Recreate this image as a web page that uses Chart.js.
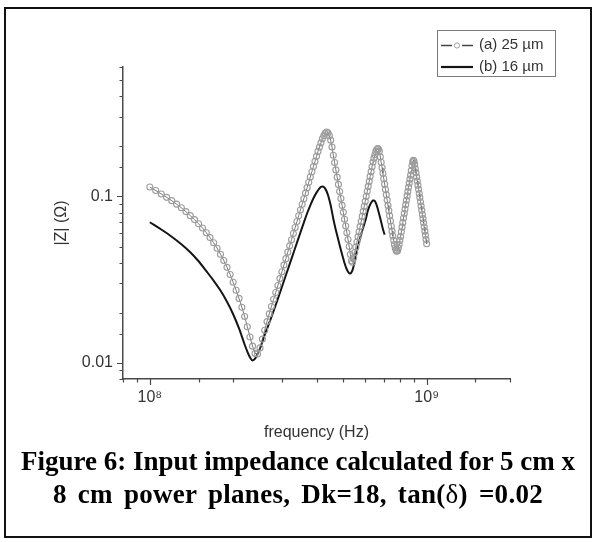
<!DOCTYPE html>
<html>
<head>
<meta charset="utf-8">
<script src="https://cdn.jsdelivr.net/npm/chart.js@4.4.1/dist/chart.umd.min.js"></script>
<style>
  html, body { margin:0; padding:0; background:#fff; }
  #wrap { position:relative; width:596px; height:542px; overflow:hidden; }
  #frame { position:absolute; left:4px; top:7px; width:584px; height:527px; border:2px solid #111; }
  #c { position:absolute; left:0; top:0; }
  #caption { position:absolute; left:0; top:445px; width:596px; text-align:center;
    font:bold 27px "Liberation Serif","Times New Roman",serif; line-height:33px; color:#000; }
  #caption .l2 { word-spacing:4px; letter-spacing:0.3px; }
  #caption .sym { font-weight:normal; }
</style>
</head>
<body>
<div id="wrap">
  <div id="frame"></div>
  <canvas id="c" width="596" height="542"></canvas>
  <div id="caption">Figure 6: Input impedance calculated for 5 cm x<br><span class="l2">8 cm power planes, Dk=18, tan(<span class="sym">δ</span>) =0.02</span></div>
</div>
<script>
// ===== data (frequency in MHz, |Z| in ohm) =====
const seriesNames = ['(a) 25 \u00b5m', '(b) 16 \u00b5m'];

// (a) 25 um : open circles
const freqA = [
  100,105,110,115,120,125,130,135,140,145,150,155,160,165,170,175,180,185,190,195,
  200,205,210,215,220,225,230,235,240,245,250,255,260,265,270,275,280,285,290,295,
  300,305,310,315,320,325,330,335,340,345,350,355,360,365,370,375,380,385,390,395,
  400,405,410,415,420,425,430,435,440,445,450,455,460,465,470,475,480,485,490,495,
  500,505,510,515,520,525,530,535,540,545,550,555,560,565,570,575,580,585,590,595,
  600,605,610,615,620,625,630,635,640,645,650,655,660,665,670,675,680,685,690,695,
  700,705,710,715,720,725,730,735,740,745,750,755,760,765,770,775,780,785,790,795,
  800,805,810,815,820,825,830,835,840,845,850,855,860,865,870,875,880,885,890,895,
  900,905,910,915,920,925,930,935,940,945,950,955,960,965,970,975,980,985,990,995,
  1000
];
const zA = [
  0.114,0.1086,0.1035,0.0988,0.0944,0.0899,0.0855,0.0811,0.0767,0.0726,0.0686,0.0646,0.0605,0.0566,0.0527,0.0489,0.0450,0.0412,0.0375,0.0340,
  0.0305,0.0273,0.0244,0.0216,0.0190,0.0165,0.0143,0.0126,0.0114,0.0113,0.0123,0.0139,0.0157,0.0177,0.0197,0.0218,0.0241,0.0265,0.0292,0.0321,
  0.0353,0.0387,0.0423,0.0463,0.0505,0.0550,0.0599,0.0651,0.0707,0.0766,0.0830,0.0898,0.0970,0.1048,0.1130,0.1217,0.1310,0.1409,0.1514,0.1625,
  0.1742,0.1866,0.1980,0.2100,0.2220,0.2320,0.2400,0.2440,0.2410,0.2320,0.2180,0.1980,0.1770,0.1600,0.1445,0.1307,0.1182,0.1072,0.0973,0.0884,
  0.0803,0.0730,0.0664,0.0605,0.0551,0.0500,0.0448,0.0410,0.0402,0.0428,0.0461,0.0496,0.0533,0.0572,0.0614,0.0659,0.0707,0.0759,0.0814,0.0872,
  0.0935,0.1002,0.1074,0.1150,0.1232,0.1320,0.1410,0.1510,0.1610,0.1700,0.1780,0.1860,0.1910,0.1940,0.1930,0.1870,0.1730,0.1605,0.1487,0.1378,
  0.1278,0.1186,0.1101,0.1023,0.0951,0.0884,0.0822,0.0765,0.0712,0.0663,0.0619,0.0579,0.0545,0.0515,0.0492,0.0477,0.0469,0.0472,0.0490,0.0515,
  0.0545,0.0575,0.0613,0.0654,0.0697,0.0742,0.0790,0.0840,0.0893,0.0949,0.1008,0.1070,0.1135,0.1202,0.1272,0.1343,0.1430,0.1530,0.1610,0.1650,
  0.1630,0.1560,0.1470,0.1388,0.1311,0.1238,0.1169,0.1104,0.1043,0.0985,0.0930,0.0876,0.0827,0.0780,0.0736,0.0695,0.0656,0.0619,0.0584,0.0551,
  0.0520
];

// (b) 16 um : solid line
const freqB = [
  100,110,120,130,140,150,160,170,180,190,200,210,220,225,230,235,240,245,250,255,
  260,270,280,290,300,310,320,330,340,350,360,370,380,390,400,410,415,420,425,430,
  435,440,445,450,455,460,465,470,475,480,485,490,495,500,505,510,515,520,525,530,
  535,540,545,550,555,560,565,570,575,580,585,590,595,600,605,610,615,620,625,630,
  635,640,645,650,655,660,665,670,675,680,685,690,695,700,705
];
const zB = [
  0.0700,0.0633,0.0573,0.0516,0.0462,0.0408,0.0356,0.0312,0.0272,0.0233,0.0196,0.0161,0.0129,0.0117,0.0108,0.01035,0.0106,0.0113,0.0122,0.0134,
  0.0147,0.0174,0.0205,0.0242,0.0286,0.0336,0.0392,0.0456,0.0528,0.0608,0.0697,0.0793,0.0885,0.0975,0.1055,0.1120,0.1142,0.1150,0.1140,0.1115,
  0.1075,0.1020,0.0955,0.0885,0.0808,0.0735,0.0676,0.0627,0.0584,0.0545,0.0510,0.0477,0.0448,0.0422,0.0398,0.0379,0.0364,0.0353,0.0346,0.0344,
  0.0350,0.0362,0.0382,0.0410,0.0440,0.0470,0.0502,0.0533,0.0562,0.0592,0.0622,0.0652,0.0682,0.0712,0.0750,0.0795,0.0835,0.0866,0.0895,0.0918,
  0.0935,0.0945,0.0946,0.0937,0.0915,0.0885,0.0850,0.0812,0.0775,0.0738,0.0702,0.0668,0.0637,0.0612,0.0590
];

// axis ranges and labels
const xRange = [8e7, 2e9];
const yRange = [0.008, 0.6];
const xTickLabels = { 8: '10\u2078', 9: '10\u2079' };
const xTitle = 'frequency (Hz)';
const yTitle = '|Z| (\u03a9)';

// ===== style =====
const axisColor = '#4a4a4a';
const textColor = '#333';
const sans = '"Liberation Sans", Arial, sans-serif';

function isDecade(v) {
  const l = Math.log10(v);
  return Math.abs(l - Math.round(l)) < 1e-6;
}

// ticks (outward, long for decades), axis titles and legend box
const decor = {
  id: 'decor',
  afterDraw(chart) {
    const { ctx, chartArea: a, scales } = chart;
    ctx.save();
    ctx.strokeStyle = axisColor;
    ctx.lineWidth = 1.2;
    ctx.beginPath();
    scales.x.ticks.forEach(t => {
      const px = Math.round(scales.x.getPixelForValue(t.value)) + 0.5;
      const len = isDecade(t.value) ? 6 : 3.5;
      ctx.moveTo(px, a.bottom); ctx.lineTo(px, a.bottom + len);
    });
    scales.y.ticks.forEach(t => {
      const py = Math.round(scales.y.getPixelForValue(t.value)) + 0.5;
      const len = isDecade(t.value) ? 6 : 3.5;
      ctx.moveTo(a.left, py); ctx.lineTo(a.left - len, py);
    });
    ctx.stroke();

    // axis titles
    ctx.fillStyle = textColor;
    ctx.font = '16px ' + sans;
    ctx.textAlign = 'center';
    ctx.textBaseline = 'middle';
    ctx.fillText(xTitle, (a.left + a.right) / 2, 433);
    ctx.save();
    ctx.translate(62, (a.top + a.bottom) / 2);
    ctx.rotate(-Math.PI / 2);
    ctx.fillText(yTitle, 0, 0);
    ctx.restore();

    // legend
    const lx = 437, ly = 30, lw = 118, lh = 46;
    ctx.strokeStyle = '#7a7a7a';
    ctx.lineWidth = 1;
    ctx.strokeRect(lx + 0.5, ly + 0.5, lw, lh);
    const dsA = chart.data.datasets[0], dsB = chart.data.datasets[1];
    // (a) symbol
    ctx.strokeStyle = '#444';
    ctx.lineWidth = 1.3;
    ctx.beginPath();
    ctx.moveTo(441, 45.5); ctx.lineTo(452, 45.5);
    ctx.moveTo(462, 45.5); ctx.lineTo(473, 45.5);
    ctx.stroke();
    ctx.strokeStyle = dsA.pointBorderColor;
    ctx.lineWidth = 1;
    ctx.beginPath();
    ctx.arc(457, 45.5, 2.6, 0, Math.PI * 2);
    ctx.stroke();
    // (b) symbol
    ctx.strokeStyle = dsB.borderColor;
    ctx.lineWidth = 2.2;
    ctx.beginPath();
    ctx.moveTo(441, 67); ctx.lineTo(473, 67);
    ctx.stroke();
    ctx.fillStyle = textColor;
    ctx.font = '15px ' + sans;
    ctx.textAlign = 'left';
    ctx.fillText(dsA.label, 479, 45);
    ctx.fillText(dsB.label, 479, 67);
    ctx.restore();
  }
};

new Chart(document.getElementById('c'), {
  type: 'line',
  data: {
    datasets: [
      {
        label: seriesNames[0],
        data: freqA.map((f, i) => ({ x: f * 1e6, y: zA[i] })),
        borderColor: '#555',
        borderWidth: 0.8,
        pointRadius: 3,
        pointBorderColor: '#9c9c9c',
        pointBorderWidth: 1.1,
        pointBackgroundColor: 'rgba(255,255,255,0)',
        tension: 0
      },
      {
        label: seriesNames[1],
        data: freqB.map((f, i) => ({ x: f * 1e6, y: zB[i] })),
        borderColor: '#151515',
        borderWidth: 2,
        pointRadius: 0,
        cubicInterpolationMode: 'monotone'
      }
    ]
  },
  options: {
    responsive: false,
    animation: false,
    layout: { padding: { left: 0, top: 67, right: 86, bottom: 0 } },
    plugins: { legend: { display: false }, tooltip: { enabled: false } },
    scales: {
      x: {
        type: 'logarithmic', min: xRange[0], max: xRange[1],
        grid: { display: false, drawTicks: false },
        border: { display: true, color: axisColor, width: 1.5 },
        ticks: {
          autoSkip: false, maxRotation: 0, padding: 9, color: textColor,
          font: { family: sans, size: 16 },
          callback: v => isDecade(v) ? (xTickLabels[Math.round(Math.log10(v))] || '') : ''
        },
        afterFit(s) { s.height = 163; }
      },
      y: {
        type: 'logarithmic', min: yRange[0], max: yRange[1],
        grid: { display: false, drawTicks: false },
        border: { display: true, color: axisColor, width: 1.5 },
        ticks: {
          autoSkip: false, padding: 10, color: textColor,
          font: { family: sans, size: 16 },
          callback: v => isDecade(v) ? String(+v.toPrecision(1)) : ''
        },
        afterFit(s) { s.width = 123; }
      }
    }
  },
  plugins: [decor]
});
</script>
</body>
</html>
